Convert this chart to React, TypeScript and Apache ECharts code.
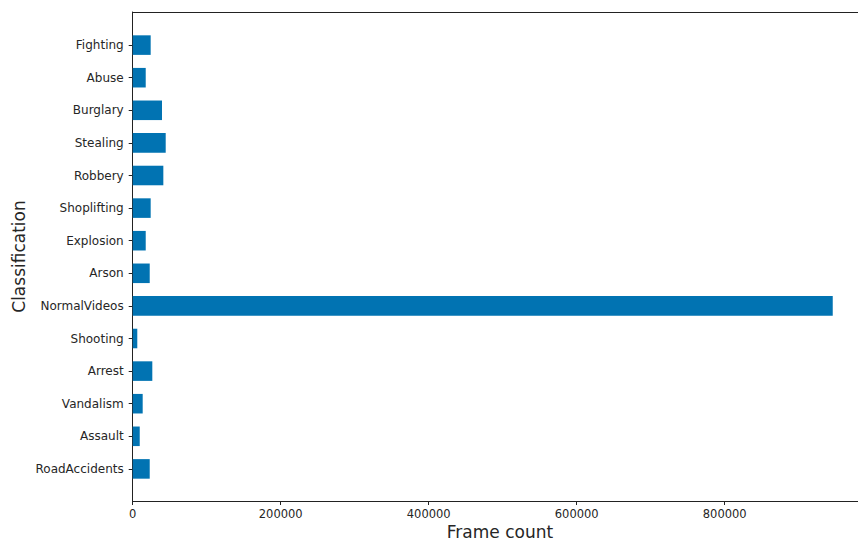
import React, { useEffect, useRef } from "react";
import * as echarts from "echarts";

const categories = [
  "Fighting",
  "Abuse",
  "Burglary",
  "Stealing",
  "Robbery",
  "Shoplifting",
  "Explosion",
  "Arson",
  "NormalVideos",
  "Shooting",
  "Arrest",
  "Vandalism",
  "Assault",
  "RoadAccidents",
];
const frameCounts = [
  24300, 17600, 39600, 44600, 41400, 24300, 17600, 23000, 946000, 6200, 26500,
  13500, 9500, 23000,
];
const xTicks = [0, 200000, 400000, 600000, 800000];

const W = 858;
const H = 541;
const LEFT = 132.7;
const TOP = 12;
const BOTTOM_Y = 501;
const PX_PER_UNIT = 148 / 200000;
const BAND = (BOTTOM_Y - TOP) / (categories.length + 1);
const FONT = "DejaVu Sans";
const SPINE = { show: true, lineStyle: { color: "#222", width: 1 } };

export default function App() {
  const ref = useRef<HTMLDivElement>(null);
  useEffect(() => {
    if (!ref.current) return;
    const chart = echarts.init(ref.current, undefined, { renderer: "svg" });
    const xMax = (W - LEFT) / PX_PER_UNIT;
    const innerTop = TOP + BAND / 2 + 0.5;
    const innerBottom = H - (BOTTOM_Y - BAND / 2) - 0.5;
    const hidden = { show: false };
    chart.setOption({
      animation: false,
      backgroundColor: "#ffffff",
      grid: [
        {
          left: LEFT,
          right: 0,
          top: innerTop,
          bottom: innerBottom,
          containLabel: false,
        },
        {
          left: LEFT,
          right: 0,
          top: TOP,
          bottom: H - BOTTOM_Y,
          containLabel: false,
        },
      ],
      xAxis: [
        {
          type: "value",
          gridIndex: 0,
          min: 0,
          max: xMax,
          interval: 200000,
          offset: BOTTOM_Y - (H - innerBottom),
          axisLine: { show: false },
          axisTick: {
            show: true,
            length: 4,
            lineStyle: { color: "#222" },
            customValues: xTicks,
          },
          axisLabel: {
            show: true,
            margin: 7,
            fontFamily: FONT,
            fontSize: 11.5,
            color: "#262626",
            customValues: xTicks,
            formatter: (v: number) => String(v),
          },
          splitLine: { show: false },
        },
        {
          type: "value",
          gridIndex: 1,
          position: "bottom",
          axisLine: SPINE,
          axisTick: hidden,
          axisLabel: hidden,
          splitLine: hidden,
        },
        {
          type: "value",
          gridIndex: 1,
          position: "top",
          axisLine: SPINE,
          axisTick: hidden,
          axisLabel: hidden,
          splitLine: hidden,
        },
      ],
      yAxis: [
        {
          type: "category",
          gridIndex: 0,
          data: categories,
          inverse: true,
          axisLine: { show: false },
          axisTick: {
            show: true,
            length: 4,
            alignWithLabel: true,
            lineStyle: { color: "#222" },
          },
          axisLabel: {
            margin: 9,
            fontFamily: FONT,
            fontSize: 12,
            color: "#262626",
          },
          splitLine: { show: false },
        },
        {
          type: "value",
          gridIndex: 1,
          position: "left",
          axisLine: SPINE,
          axisTick: hidden,
          axisLabel: hidden,
          splitLine: hidden,
        },
      ],
      series: [
        {
          type: "bar",
          xAxisIndex: 0,
          yAxisIndex: 0,
          data: frameCounts,
          barCategoryGap: "40%",
          itemStyle: { color: "#0173b2" },
        },
      ],
      graphic: [
        {
          type: "text",
          x: 500,
          y: 531.5,
          style: {
            text: "Frame count",
            fontFamily: FONT,
            fontSize: 17,
            fill: "#262626",
            textAlign: "center",
            textVerticalAlign: "middle",
          },
        },
        {
          type: "text",
          x: 19,
          y: (TOP + BOTTOM_Y) / 2,
          rotation: Math.PI / 2,
          style: {
            text: "Classification",
            fontFamily: FONT,
            fontSize: 17,
            fill: "#262626",
            textAlign: "center",
            textVerticalAlign: "middle",
          },
        },
      ],
    });
    return () => chart.dispose();
  }, []);
  return (
    <div
      ref={ref}
      style={{ position: "absolute", left: 0, top: 0, width: W, height: H }}
    />
  );
}
